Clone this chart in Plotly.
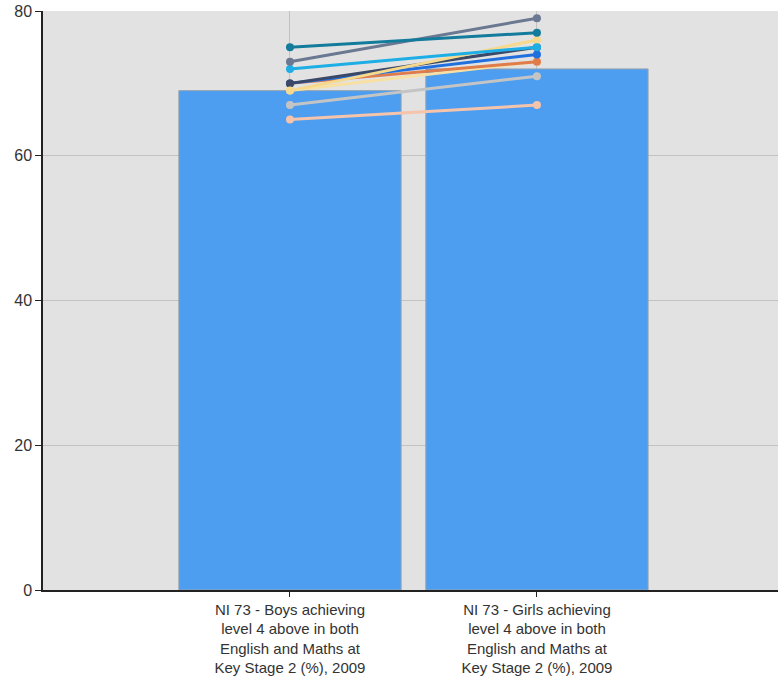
import plotly.graph_objects as go

categories = ["Boys", "Girls"]
tick_labels = [
    "NI 73 - Boys achieving<br>level 4 above in both<br>English and Maths at<br>Key Stage 2 (%), 2009",
    "NI 73 - Girls achieving<br>level 4 above in both<br>English and Maths at<br>Key Stage 2 (%), 2009",
]
bar_values = [69, 72]

series_names = ["A", "B", "C", "D", "E", "F", "G", "H", "I", "J"]
series_values = [
    [65, 67],
    [67, 71],
    [69, 73],
    [70, 73],
    [70, 74],
    [70, 75],
    [69, 76],
    [72, 75],
    [73, 79],
    [75, 77],
]
series_colors = ["#f6c3ab", "#c4c4c4", "#f8e0a4", "#e07b4a", "#1f6fdf",
                 "#3b4966", "#f6d98c", "#1eaee6", "#6a7891", "#137b9c"]

fig = go.Figure()
fig.add_trace(go.Bar(
    x=categories, y=bar_values, width=0.9,
    marker=dict(color="#4d9ef1", line=dict(color="#9aa4ae", width=1)),
    showlegend=False, hoverinfo="y",
))
for name, vals, col in zip(series_names, series_values, series_colors):
    fig.add_trace(go.Scatter(
        x=categories, y=vals, mode="lines+markers", name=name,
        line=dict(color=col, width=3), marker=dict(color=col, size=8),
        showlegend=False,
    ))

fig.update_layout(
    width=778, height=680,
    margin=dict(l=43, r=0, t=11, b=90),
    paper_bgcolor="white", plot_bgcolor="#e2e2e2",
    font=dict(family="Liberation Sans, Arial", size=16, color="#333333"),
    bargap=0.1,
)
fig.update_xaxes(
    range=[-1, 1.976], tickmode="array", tickvals=categories, ticktext=tick_labels,
    showgrid=True, gridcolor="#c2c2c2", gridwidth=1,
    showline=True, linecolor="#222222", linewidth=1.5,
    ticks="outside", ticklen=5, tickcolor="#222222",
    tickfont=dict(size=15, color="#333333"), zeroline=False, automargin=False,
)
fig.update_yaxes(
    range=[0, 80], tickvals=[0, 20, 40, 60, 80],
    showgrid=True, gridcolor="#c2c2c2", gridwidth=1,
    showline=True, linecolor="#222222", linewidth=1.5,
    ticks="outside", ticklen=6, tickcolor="#222222",
    tickfont=dict(size=16, color="#333333"), zeroline=False, automargin=False,
)
fig.write_html("out.html", config={"displayModeBar": False},
               post_script="document.body.style.margin='0px';document.body.style.overflow='hidden';")
